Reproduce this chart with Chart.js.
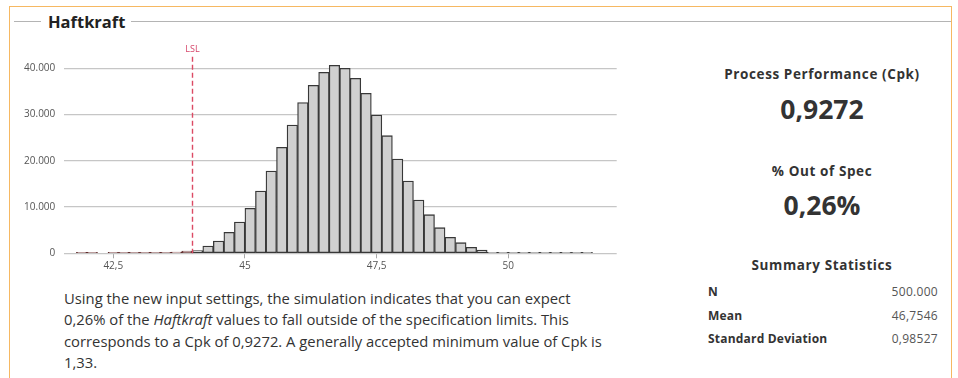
<!DOCTYPE html>
<html>
<head>
<meta charset="utf-8">
<script src="https://cdn.jsdelivr.net/npm/chart.js@4.4.0/dist/chart.umd.min.js"></script>
<style>
  html, body { margin: 0; padding: 0; background: #fff; }
  body { width: 958px; height: 378px; position: relative; overflow: hidden;
         font-family: "Open Sans", "Liberation Sans", sans-serif; color: #333; }
  .frame { position: absolute; left: 9px; top: 6px; width: 943px; height: 420px;
           border: 1.5px solid #f6b862; box-sizing: border-box; }
  .rule { position: absolute; height: 0; border-top: 1.5px solid #b4b4b4; top: 21px; }
  .title { position: absolute; left: 48px; top: 10px; line-height: 24px; font-size: 16.5px;
           font-weight: 700; color: #222; }
  #chartBox { position: absolute; left: 10px; top: 36px; width: 620px; height: 250px; }
  .note { position: absolute; left: 64px; top: 288px; width: 600px; font-size: 14.8px;
          line-height: 21.3px; color: #333; white-space: nowrap; }
  .kpi { position: absolute; left: 700px; width: 244px; text-align: center; font-weight: 700; color: #333; }
  .kpi.head { font-size: 13.5px; line-height: 20px; letter-spacing: 0.6px; }
  .kpi.big { font-size: 26.5px; line-height: 34px; }
  .stat { position: absolute; left: 708px; width: 230px; font-size: 12px; line-height: 16px; letter-spacing: 0.2px; }
  .stat b { font-weight: 700; color: #333; }
  .stat span { position: absolute; right: 0; top: 0; color: #555; letter-spacing: 0.3px; }
</style>
</head>
<body>
<div class="frame"></div>
<div class="rule" style="left:14px;width:27px;"></div>
<div class="rule" style="left:131px;width:820px;"></div>
<div class="title">Haftkraft</div>

<div id="chartBox"><canvas id="hist" width="620" height="250"></canvas></div>

<div class="note">Using the new input settings, the simulation indicates that you can expect<br>0,26% of the <i>Haftkraft</i> values to fall outside of the specification limits. This<br>corresponds to a Cpk of 0,9272. A generally accepted minimum value of Cpk is<br>1,33.</div>

<div class="kpi head" style="top:64px;">Process Performance (Cpk)</div>
<div class="kpi big" style="top:92px;">0,9272</div>
<div class="kpi head" style="top:161px;">% Out of Spec</div>
<div class="kpi big" style="top:188px;">0,26%</div>
<div class="kpi head" style="top:255px;">Summary Statistics</div>
<div class="stat" style="top:284px;"><b>N</b><span>500.000</span></div>
<div class="stat" style="top:308px;"><b>Mean</b><span>46,7546</span></div>
<div class="stat" style="top:331px;"><b>Standard Deviation</b><span>0,98527</span></div>

<script>
// Histogram bins (lower edges, width 0.2) and simulated counts per bin
const binWidth = 0.2;
const binStarts = [
  41.8, 42.0, 42.2, 42.4, 42.6, 42.8, 43.0, 43.2, 43.4, 43.6,
  43.8, 44.0, 44.2, 44.4, 44.6, 44.8, 45.0, 45.2, 45.4, 45.6,
  45.8, 46.0, 46.2, 46.4, 46.6, 46.8, 47.0, 47.2, 47.4, 47.6,
  47.8, 48.0, 48.2, 48.4, 48.6, 48.8, 49.0, 49.2, 49.4, 49.6,
  49.8, 50.0, 50.2, 50.4, 50.6, 50.8, 51.0, 51.2, 51.4
];
const counts = [
  3, 2, null, 2, 4, 7, 12, 25, 90, 280,
  500, 600, 1580, 2660, 4540, 6770, 9730, 13470, 17800, 22920,
  27740, 32570, 36320, 39130, 40650, 40000, 37840, 34590, 29900, 25430,
  20390, 15630, 11520, 8350, 5540, 3460, 2300, 1300, 710, 220,
  90, 40, 15, 8, 4, 3, 2, 1, 1
];

// Specification limit
const specLimits = [{ label: 'LSL', value: 44.0 }];

// Axis ticks
const xTicks = [42.5, 45, 47.5, 50];
const xTickLabels = ['42,5', '45', '47,5', '50'];
const yTicks = [0, 10000, 20000, 30000, 40000];
const yTickLabels = ['0', '10.000', '20.000', '30.000', '40.000'];

const FONT = '"Open Sans", "Liberation Sans", sans-serif';
const lsl = specLimits[0].value;

const limitLines = {
  id: 'limitLines',
  afterDatasetsDraw(chart) {
    const { ctx, chartArea, scales: { x } } = chart;
    specLimits.forEach(l => {
      const px = Math.round(x.getPixelForValue(l.value)) + 0.5;
      ctx.save();
      ctx.strokeStyle = '#dc4a64';
      ctx.lineWidth = 1.4;
      ctx.setLineDash([5, 3]);
      ctx.beginPath();
      ctx.moveTo(px, chartArea.top);
      ctx.lineTo(px, chartArea.bottom);
      ctx.stroke();
      ctx.setLineDash([]);
      ctx.fillStyle = '#d6456a';
      ctx.font = '9px ' + FONT;
      ctx.textAlign = 'center';
      ctx.textBaseline = 'middle';
      ctx.fillText(l.label, px, chartArea.top - 7);
      ctx.restore();
    });
  }
};

new Chart(document.getElementById('hist'), {
  type: 'bar',
  data: {
    datasets: [{
      data: binStarts.map((b, i) => ({ x: b + binWidth / 2, y: counts[i] })),
      backgroundColor: binStarts.map(b => b < lsl ? '#c8a8a8' : '#d0d0d0'),
      borderColor: binStarts.map(b => b < lsl ? '#5e2a2a' : '#383838'),
      borderWidth: 1.3,
      borderSkipped: false,
      barPercentage: 1,
      categoryPercentage: 1,
      minBarLength: 1
    }]
  },
  options: {
    responsive: false,
    animation: false,
    devicePixelRatio: 1,
    layout: { padding: { left: 0, right: 13.3, top: 20.7, bottom: 0 } },
    plugins: { legend: { display: false }, tooltip: { enabled: false } },
    scales: {
      x: {
        type: 'linear',
        min: 41.57,
        max: 52.06,
        offset: false,
        afterBuildTicks: s => { s.ticks = xTicks.map(v => ({ value: v })); },
        afterFit: s => { s.height = 32.7; },
        ticks: {
          callback: (v, i) => xTickLabels[i],
          font: { size: 10, family: FONT },
          color: '#555',
          padding: 2,
          maxRotation: 0,
          autoSkip: false
        },
        grid: { offset: false, drawOnChartArea: false, drawTicks: true, tickLength: 5, color: '#a8a8a8' },
        border: { display: false }
      },
      y: {
        min: 0,
        max: 42500,
        afterBuildTicks: s => { s.ticks = yTicks.map(v => ({ value: v })); },
        afterFit: s => { s.width = 54.3; },
        ticks: {
          callback: (v, i) => yTickLabels[i],
          font: { size: 10, family: FONT },
          color: '#555',
          padding: 9
        },
        grid: { color: '#c6c6c6', lineWidth: 1.3, drawTicks: false },
        border: { display: false }
      }
    }
  },
  plugins: [limitLines]
});
</script>
</body>
</html>
